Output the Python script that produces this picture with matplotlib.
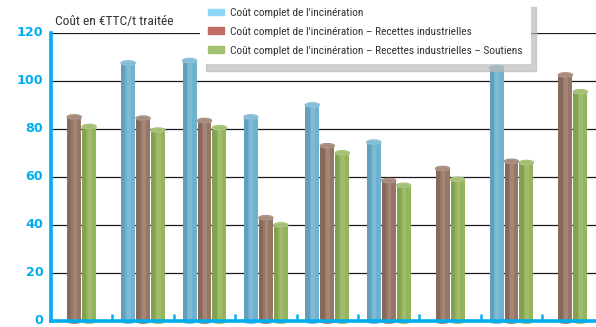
import matplotlib.pyplot as plt
import numpy as np
from matplotlib.patches import Ellipse
from matplotlib import font_manager

# valeurs (None = pas de barre)
complet = [None, 107.5, 108.5, 85, 90, 74.5, None, 105.5, None]
recettes = [85, 84.5, 83.5, 43, 73, 58.5, 63.5, 66.5, 102.5]
soutiens = [81, 79.5, 80.5, 40, 70, 56.5, 59, 66, 95.5]

labels = ["Coût complet de l'incinération",
          "Coût complet de l'incinération \u2013 Recettes industrielles",
          "Coût complet de l'incinération \u2013 Recettes industrielles \u2013 Soutiens"]
bar_colors = ['#6fb2d0', '#977666', '#93b45c']
leg_colors = ['#8dd6f6', '#c26c62', '#a2c070']
yticks = [0, 20, 40, 60, 80, 100, 120]

cyan = '#00aeef'

# polices disponibles
installed = set(f.name for f in font_manager.fontManager.ttflist)
narrow = 'DejaVu Sans'
for name in ['Liberation Sans Narrow', 'Roboto Condensed', 'Open Sans Condensed', 'Roboto']:
    if name in installed:
        narrow = name
        break
fnt = [narrow, 'DejaVu Sans']

fig = plt.figure(figsize=(5.96, 3.27), dpi=100)
ax = fig.add_axes([51/596, 6/327, 545/596, 288/327])

w = 0.228
step = 0.244
ng = len(recettes)
for i in range(ng):
    vals = [complet[i], recettes[i], soutiens[i]]
    present = [k for k in range(3) if vals[k] is not None]
    n = len(present)
    offs = (np.arange(n) - (n - 1) / 2) * step
    for o, k in zip(offs, present):
        x = i + 0.5 + o
        v = vals[k]
        ax.bar(x, v, width=w, color=bar_colors[k], zorder=3)
        # ombrage du cylindre
        ax.bar(x - w*0.35, v, width=w*0.3, color='black', alpha=0.10, zorder=4, linewidth=0)
        ax.bar(x + w*0.05, v, width=w*0.25, color='white', alpha=0.12, zorder=4, linewidth=0)
        ax.add_patch(Ellipse((x, v), w, 1.8, color=bar_colors[k], zorder=5))
        ax.add_patch(Ellipse((x, v), w, 1.8, color='white', alpha=0.15, zorder=6))
        ax.add_patch(Ellipse((x, 0), w, 1.8, color=bar_colors[k], zorder=2, clip_on=False))

ax.set_xlim(0, 545/61.4)
ax.set_ylim(0, 120)
ax.set_yticks(yticks)
ax.set_yticklabels([str(t) for t in yticks], color=cyan, fontweight='bold',
                   fontsize=9.2, family='DejaVu Sans')
for t in yticks[1:]:
    ax.axhline(t, color='#1a1a1a', lw=0.9, zorder=1)
ax.set_xticks(np.arange(1, ng))
ax.set_xticklabels([])
ax.tick_params(axis='x', direction='in', length=5, width=1.8, color=cyan)
ax.tick_params(axis='y', length=0, pad=5.5)
for s in ['top', 'right']:
    ax.spines[s].set_visible(False)
ax.spines['left'].set_color(cyan)
ax.spines['left'].set_linewidth(2.6)
ax.spines['bottom'].set_color(cyan)
ax.spines['bottom'].set_linewidth(2.6)
ax.spines['bottom'].set_zorder(7)
for lab in ax.get_yticklabels():
    lab.set_va('center')

fig.text(55/596, 1 - 21/327, "Coût en €TTC/t traitée", fontsize=9.7, color='#333333',
         family=fnt, va='center', ha='left')

handles = [plt.Rectangle((0, 0), 1, 1, color=c) for c in leg_colors]
leg = fig.legend(handles, labels, loc='upper left', bbox_to_anchor=(200/596, 1.0),
                 frameon=True, fancybox=False, labelcolor='#333333',
                 prop={'family': fnt, 'size': 8.2}, handlelength=1.4, handleheight=0.55,
                 borderpad=0.7, labelspacing=0.78, handletextpad=0.55,
                 borderaxespad=0,
                 shadow={'ox': 4, 'oy': -5, 'color': '#b8b8b8', 'alpha': 0.65})
leg.get_frame().set_edgecolor('none')
leg.get_frame().set_facecolor('white')
leg.set_zorder(10)

fig.savefig('out.png', dpi=100)
